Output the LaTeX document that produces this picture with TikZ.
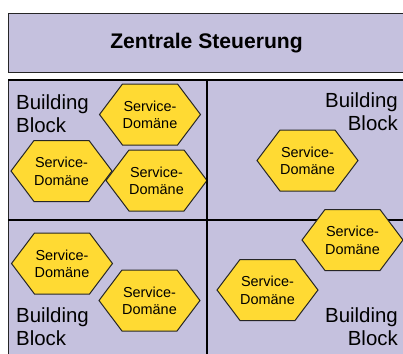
\documentclass[tikz,border=0pt]{standalone}
\usepackage{fontspec}
\setmainfont{Liberation Sans}
\definecolor{lav}{HTML}{C5C1DE}
\definecolor{hexy}{HTML}{FFDA33}
\tikzset{
  boxfill/.style={fill=lav, draw=black!85, line width=1bp},
  divider/.style={draw=black, line width=2bp},
  hexfill/.style={fill=hexy, draw=black!85, line width=1bp, line join=miter},
  svc/.style={inner sep=0, align=center, font=\fontsize{14.5}{17.5}\selectfont},
  bblock/.style={inner sep=0, font=\fontsize{20.5}{24}\selectfont},
}
\newcommand\hexdom[3]{%
  \draw[hexfill, shift={(#2,#3)}] (-50.5,0) -- (-27.5,-30.5) -- (27.5,-30.5) -- (50.5,0) -- (27.5,30.5) -- (-27.5,30.5) -- cycle;
  \node[svc] (#1) at (#2,#3+0.5) {Service-\\Domäne};
}
\begin{document}
\begin{tikzpicture}[x=1bp,y=-1bp]
\useasboundingbox (0,0) rectangle (403,354);
\begin{scope}
\clip (0,0) rectangle (403,354);
% top box
\draw[boxfill] (8,13.5) rectangle (420,72);
\node[inner sep=0, font=\fontsize{21.2}{25}\selectfont\bfseries] (title) at (206.5,43) {Zentrale Steuerung};
% lower box
\draw[boxfill] (8,80) rectangle (420,370);
\coordinate (vt) at (206.5,80);
\coordinate (vb) at (206.5,370);
\coordinate (hl) at (8,219.5);
\coordinate (hr) at (420,219.5);
\draw[divider] (hl) -- (hr);
% hexagons
\hexdom{s1}{150}{114.5}
\hexdom{s2}{61.5}{171}
\hexdom{s3}{156.5}{180.5}
\draw[divider] (vt) -- (vb);
\draw[divider, line width=1.3bp] (8,80) -- (420,80);
\hexdom{s4}{307.5}{160.5}
\hexdom{s5}{62}{263.5}
\hexdom{s6}{149.5}{300.5}
\hexdom{s7}{352.5}{240}
\hexdom{s8}{267.5}{290}
% labels
\node[bblock, anchor=north west, align=left] (b1) at (16,94) {Building\\Block};
\node[bblock, anchor=north east, align=right] (b2) at (398,92) {Building\\Block};
\node[bblock, anchor=north west, align=left] (b3) at (16,307) {Building\\Block};
\node[bblock, anchor=north east, align=right] (b4) at (398,307) {Building\\Block};
\end{scope}
\end{tikzpicture}
\end{document}
